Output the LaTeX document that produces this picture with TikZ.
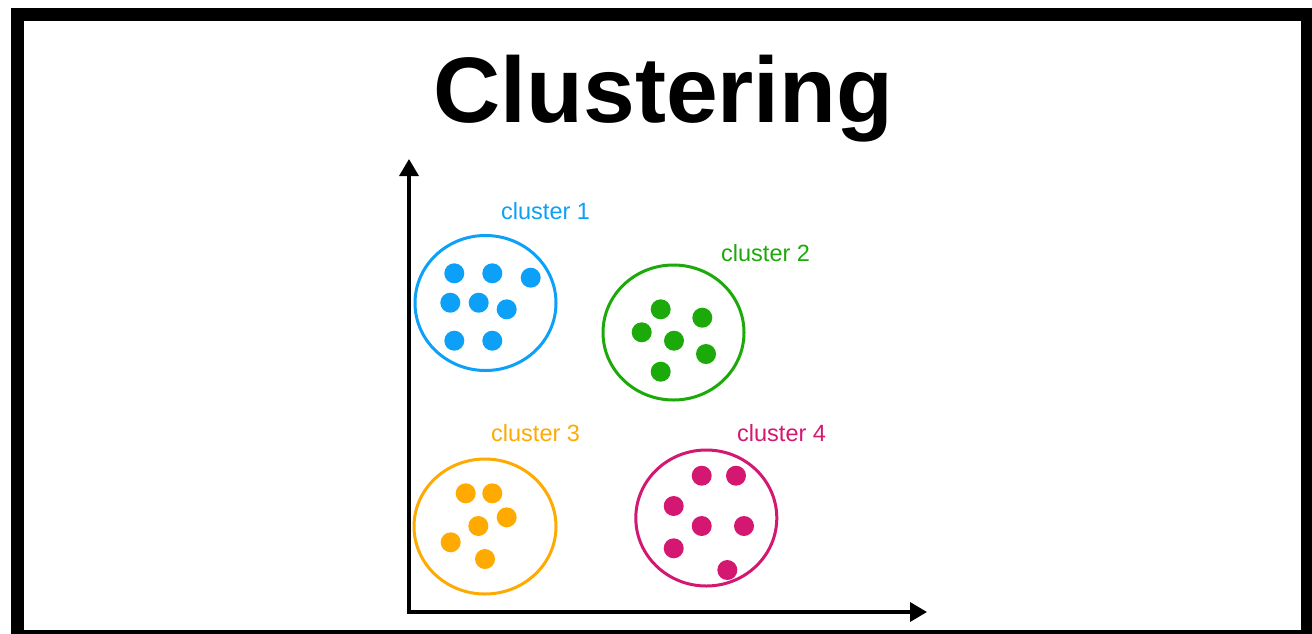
\documentclass[tikz,border=0pt]{standalone}
\usepackage{fontspec}
\setmainfont{Liberation Sans}
\usetikzlibrary{arrows.meta,shapes.geometric}

\definecolor{cblue}{RGB}{12,160,248}
\definecolor{cgreen}{RGB}{28,170,10}
\definecolor{corange}{RGB}{255,170,0}
\definecolor{cpink}{RGB}{212,24,114}

\tikzset{
  ring/.style={draw=#1, line width=3pt, ellipse, inner sep=0pt},
  dot/.style={circle, fill=#1, inner sep=0pt, minimum size=20pt},
  tag/.style={text=#1, anchor=base west, inner sep=0pt,
              font=\fontsize{23.5}{24}\selectfont},
  axis/.style={line width=3.5pt, {Triangle[length=17pt,width=19pt]}-{Triangle[length=17pt,width=19pt]}}
}

\begin{document}
\begin{tikzpicture}[x=1pt,y=-1pt]
  \useasboundingbox (0,0) rectangle (1312,633);

  % heavy frame
  \fill[black] (11,8) rectangle (1320,640);
  \fill[white] (24,21) rectangle (1301,630);

  % title
  \node[anchor=base, inner sep=0pt, font=\fontsize{93}{93}\selectfont\bfseries]
    (title) at (663.5,122) {Clustering};

  % axes
  \coordinate (ytip) at (409,159);
  \coordinate (origin) at (409,612);
  \coordinate (xtip) at (927,612);
  \draw[axis] (ytip) -- (origin) -- (xtip);

  % cluster 1
  \node[ring=cblue, minimum width=141pt, minimum height=135pt] (c1) at (485.5,303) {};
  \node[tag=cblue] (l1) at (501,219.3) {cluster 1};
  \foreach \x/\y [count=\i] in {454.3/273.3, 492.3/273.3, 530.7/277.7, 450.3/302.7,
                               478.7/302.7, 506.7/309.3, 454.3/340.7, 492.3/340.7}
    \node[dot=cblue] (p1-\i) at (\x,\y) {};

  % cluster 2
  \node[ring=cgreen, minimum width=141pt, minimum height=135pt] (c2) at (673.5,332.5) {};
  \node[tag=cgreen] (l2) at (721,261.7) {cluster 2};
  \foreach \x/\y [count=\i] in {660.7/309.3, 702.3/317.7, 641.7/332.3,
                               674/340.7, 706/354, 660.7/371.7}
    \node[dot=cgreen] (p2-\i) at (\x,\y) {};

  % cluster 3
  \node[ring=corange, minimum width=142pt, minimum height=135pt] (c3) at (485,526.5) {};
  \node[tag=corange] (l3) at (491,441) {cluster 3};
  \foreach \x/\y [count=\i] in {465.7/493.3, 492.3/493.3, 506.7/517.3,
                               478.3/526, 450.7/542.3, 485/559}
    \node[dot=corange] (p3-\i) at (\x,\y) {};

  % cluster 4
  \node[ring=cpink, minimum width=141pt, minimum height=136pt] (c4) at (706.3,518) {};
  \node[tag=cpink] (l4) at (737,441.7) {cluster 4};
  \foreach \x/\y [count=\i] in {701.7/475.7, 736/475.7, 673.7/506, 701.7/526,
                               744/526, 673.7/548.3, 727.3/570}
    \node[dot=cpink] (p4-\i) at (\x,\y) {};
\end{tikzpicture}
\end{document}
